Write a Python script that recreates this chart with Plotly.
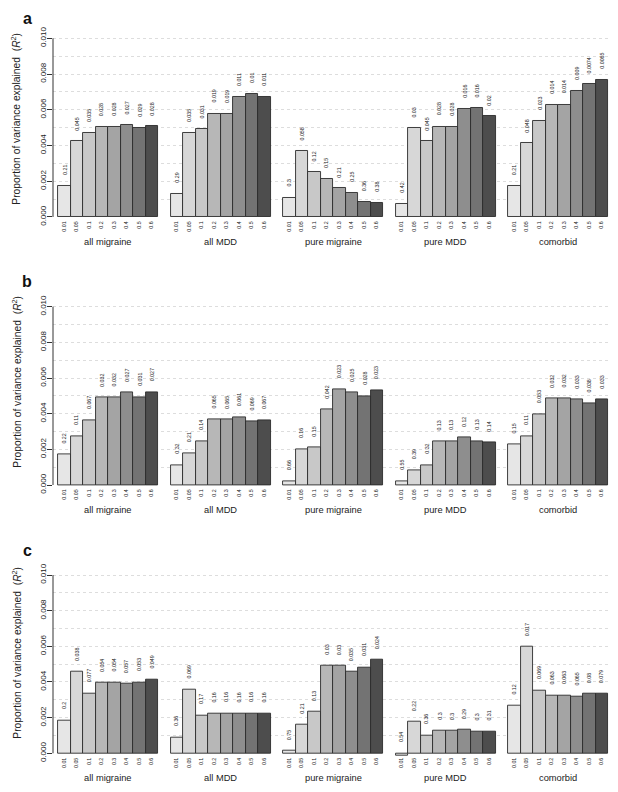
import plotly.graph_objects as go

thresholds = ["0.01", "0.05", "0.1", "0.2", "0.3", "0.4", "0.5", "0.6"]
groups = ["all migraine", "all MDD", "pure migraine", "pure MDD", "comorbid"]
panel_letters = ["a", "b", "c"]
y_ticks = [0.0, 0.002, 0.004, 0.006, 0.008, 0.010]
y_tick_labels = ["0.000", "0.002", "0.004", "0.006", "0.008", "0.010"]

# R2 values, panel a (one list per group, one value per threshold)
a_r2 = [
    [0.00175, 0.00423, 0.00468, 0.00504, 0.00504, 0.00513, 0.00498, 0.00507],
    [0.00129, 0.00468, 0.00491, 0.00578, 0.00578, 0.00670, 0.00687, 0.00672],
    [0.00108, 0.00368, 0.00250, 0.00211, 0.00160, 0.00134, 0.00084, 0.00078],
    [0.00073, 0.00496, 0.00423, 0.00506, 0.00506, 0.00604, 0.00608, 0.00563],
    [0.00174, 0.00412, 0.00537, 0.00629, 0.00629, 0.00707, 0.00743, 0.00767],
]
a_p = [
    ["0.21", "0.045", "0.035", "0.028", "0.028", "0.027", "0.029", "0.028"],
    ["0.29", "0.035", "0.031", "0.019", "0.019", "0.011", "0.01", "0.011"],
    ["0.3", "0.058", "0.12", "0.15", "0.21", "0.25", "0.36", "0.38"],
    ["0.42", "0.03", "0.045", "0.028", "0.028", "0.016", "0.016", "0.02"],
    ["0.21", "0.048", "0.023", "0.014", "0.014", "0.009", "0.0074", "0.0065"],
]
b_r2 = [
    [0.00172, 0.00273, 0.00363, 0.00490, 0.00490, 0.00518, 0.00493, 0.00521],
    [0.00112, 0.00179, 0.00245, 0.00366, 0.00366, 0.00379, 0.00357, 0.00363],
    [0.00022, 0.00200, 0.00211, 0.00424, 0.00536, 0.00518, 0.00499, 0.00533],
    [0.00022, 0.00084, 0.00112, 0.00245, 0.00245, 0.00265, 0.00247, 0.00239],
    [0.00228, 0.00273, 0.00396, 0.00484, 0.00484, 0.00480, 0.00456, 0.00480],
]
b_p = [
    ["0.22", "0.11", "0.067", "0.032", "0.032", "0.027", "0.031", "0.027"],
    ["0.32", "0.21", "0.14", "0.065", "0.065", "0.061", "0.069", "0.067"],
    ["0.66", "0.16", "0.15", "0.042", "0.023", "0.025", "0.028", "0.023"],
    ["0.55", "0.39", "0.32", "0.13", "0.13", "0.12", "0.13", "0.14"],
    ["0.15", "0.11", "0.053", "0.032", "0.032", "0.033", "0.038", "0.033"],
]
c_r2 = [
    [0.00185, 0.00458, 0.00336, 0.00396, 0.00396, 0.00389, 0.00398, 0.00415],
    [0.00090, 0.00357, 0.00213, 0.00224, 0.00224, 0.00224, 0.00224, 0.00224],
    [0.00013, 0.00159, 0.00232, 0.00490, 0.00490, 0.00456, 0.00482, 0.00523],
    [-0.00015, 0.00176, 0.00101, 0.00125, 0.00125, 0.00131, 0.00123, 0.00123],
    [0.00269, 0.00596, 0.00353, 0.00325, 0.00325, 0.00320, 0.00333, 0.00333],
]
c_p = [
    ["0.2", "0.038", "0.077", "0.054", "0.054", "0.057", "0.053", "0.049"],
    ["0.36", "0.069", "0.17", "0.16", "0.16", "0.16", "0.16", "0.16"],
    ["0.75", "0.21", "0.13", "0.03", "0.03", "0.035", "0.031", "0.024"],
    ["0.54", "0.22", "0.36", "0.3", "0.3", "0.29", "0.3", "0.31"],
    ["0.12", "0.017", "0.069", "0.063", "0.063", "0.065", "0.08", "0.079"],
]

bar_colors = ["#e6e6e6", "#d7d7d7", "#c8c8c8", "#b7b7b7",
              "#a4a4a4", "#8e8e8e", "#737373", "#4d4d4d"]

# the page body has an 8px margin, so the figure is drawn 8px smaller on each side
OFF = 8
W, H = 618 - 2 * OFF, 792 - 2 * OFF
FONT = "Liberation Sans, Arial, sans-serif"

# page-pixel layout of each panel: (y of 0.000, y of 0.010, title centre, letter y)
panel_px = [(217.0, 38.3, 119, 16), (485.0, 306.7, 382, 281), (753.3, 575.0, 653, 550)]
YMIN, YMAX = -0.0003, 0.0103
x_left_px, unit_px = 53.0, 12.5
XMIN, XMAX = -0.9, 43.6


def px_x(x):
    return (x - OFF) / W


def px_y(y):
    return 1 - (y - OFF) / H


fig = go.Figure()
annotations = []
shapes = []
layout_axes = {}

positions = [g * 9 + i for g in range(len(groups)) for i in range(len(thresholds))]

for k, (r2, pv) in enumerate([(a_r2, a_p), (b_r2, b_p), (c_r2, c_p)]):
    zero_px, ten_px, title_px, letter_px = panel_px[k]
    ppu = (zero_px - ten_px) / 0.010
    top_px = ten_px - (YMAX - 0.010) * ppu
    bot_px = zero_px + (0 - YMIN) * ppu
    dom_y = [px_y(bot_px), px_y(top_px)]
    dom_x = [px_x(x_left_px), min(1.0, px_x(x_left_px + (XMAX - XMIN) * unit_px))]
    xa = "x" if k == 0 else f"x{k+1}"
    ya = "y" if k == 0 else f"y{k+1}"
    xkey = "xaxis" if k == 0 else f"xaxis{k+1}"
    ykey = "yaxis" if k == 0 else f"yaxis{k+1}"

    vals = [v for grp in r2 for v in grp]
    cols = bar_colors * len(groups)
    fig.add_trace(go.Bar(
        x=positions, y=vals, width=1.0,
        marker=dict(color=cols, line=dict(color="#2b2b2b", width=0.9)),
        xaxis=xa, yaxis=ya, showlegend=False, hoverinfo="skip",
    ))

    layout_axes[xkey] = dict(
        domain=dom_x, anchor=ya, range=[XMIN, XMAX],
        tickmode="array", tickvals=positions, ticktext=thresholds * len(groups),
        tickangle=-90, tickfont=dict(size=5.3, color="#222", family=FONT),
        ticks="", showline=False, showgrid=False, zeroline=False, automargin=False,
        ticklabelstandoff=-3,
    )
    layout_axes[ykey] = dict(
        domain=dom_y, anchor=xa, range=[YMIN, YMAX],
        tickmode="array", tickvals=y_ticks, ticktext=y_tick_labels,
        tickangle=-90, tickfont=dict(size=8, color="#222", family=FONT),
        ticks="outside", ticklen=5, tickcolor="#333", tickwidth=1,
        showline=False, showgrid=False, zeroline=False, automargin=False,
        ticklabelstandoff=-2,
        minor=dict(tickmode="array", tickvals=[0.001 * j for j in range(1, 11)],
                   showgrid=True, gridcolor="#dddddd", griddash="dot", gridwidth=1,
                   ticks=""),
    )

    # y axis line from 0 to 0.010
    shapes.append(dict(type="line", xref=f"{xa} domain", yref=ya, x0=0, x1=0,
                       y0=y_ticks[0], y1=y_ticks[-1], line=dict(color="#333", width=1)))

    # p-value labels
    for g in range(len(groups)):
        for i in range(len(thresholds)):
            v = r2[g][i]
            annotations.append(dict(
                x=g * 9 + i, y=max(v, 0), xref=xa, yref=ya, text=pv[g][i],
                showarrow=False, textangle=-90, yanchor="bottom", xanchor="center",
                yshift=9, font=dict(size=5.3, color="#222", family=FONT),
            ))
        # group labels
        annotations.append(dict(
            x=g * 9 + 3.5, xref=xa, y=px_y(zero_px + 25), yref="paper",
            text=groups[g], showarrow=False, xanchor="center", yanchor="middle",
            font=dict(size=9.3, color="#222", family=FONT),
        ))

    # y axis title
    annotations.append(dict(
        x=px_x(15.7), y=px_y(title_px), xref="paper", yref="paper",
        text="Proportion of variance explained  (<i>R</i><sup>2</sup>)",
        showarrow=False, textangle=-90, xanchor="center", yanchor="middle",
        font=dict(size=10.3, color="#222", family=FONT),
    ))
    # panel letter
    if k == 0:
        letter_pos = dict(y=1.0, yanchor="top")
    else:
        letter_pos = dict(y=px_y(letter_px), yanchor="middle")
    annotations.append(dict(
        x=px_x(27), xref="paper", yref="paper",
        text=f"<b>{panel_letters[k]}</b>", showarrow=False,
        xanchor="center", font=dict(size=16, color="#111", family=FONT),
        **letter_pos,
    ))

fig.update_layout(
    width=W, height=H,
    margin=dict(l=0, r=0, t=0, b=0),
    paper_bgcolor="white", plot_bgcolor="white",
    bargap=0, barmode="overlay",
    annotations=annotations, shapes=shapes,
    font=dict(family=FONT),
    **layout_axes,
)

fig.write_html("out.html")
